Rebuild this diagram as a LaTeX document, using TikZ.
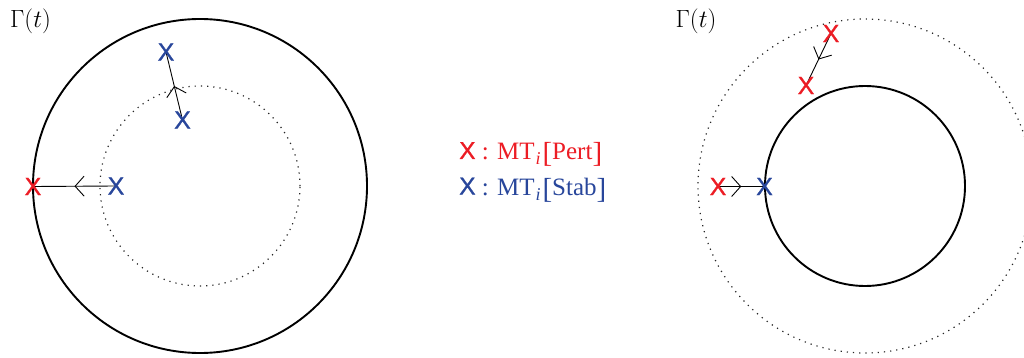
\documentclass[tikz,border=0pt]{standalone}
\usepackage{fontspec}
\usetikzlibrary{arrows.meta,decorations.markings,backgrounds}
\newfontfamily\xsans[FakeBold=1.0]{Liberation Sans}
\newfontfamily\legserif{Liberation Serif}
\definecolor{pertred}{RGB}{236,28,36}
\definecolor{stabblue}{RGB}{40,70,155}
\newcommand{\myxm}{\raisebox{1pt}{\xsans\fontsize{24.5}{25}\selectfont X}}
\newcommand{\mylbr}{\raisebox{-3pt}{\fontsize{29}{29}\selectfont[}}
\newcommand{\myrbr}{\raisebox{-3pt}{\fontsize{29}{29}\selectfont]}}
\newcommand{\mysubi}{\hspace{1pt}\raisebox{-4.5pt}{\fontsize{18}{18}\selectfont\itshape i}\hspace{2pt}}
\tikzset{
  solidcirc/.style={circle, draw, line width=1.9pt, inner sep=0pt},
  dotcirc/.style={circle, draw, line width=1.2pt, dash pattern=on 1.2pt off 5pt, draw=black!85, inner sep=0pt},
  xmark/.style={inner sep=0pt, font=\xsans\fontsize{25}{25}\selectfont},
  pert/.style={xmark, text=pertred},
  stab/.style={xmark, text=stabblue},
  midarrow/.style={line width=0.9pt, postaction={decorate},
    decoration={markings, mark=at position 0.5 with {\arrow{Straight Barb[length=9pt,width=20pt,line width=0.9pt]}}}},
  gammalbl/.style={inner sep=0pt, font=\fontsize{25}{26}\selectfont},
  legendline/.style={inner sep=0pt, anchor=base west, font=\legserif\fontsize{25}{27}\selectfont},
}
\begin{document}
\begin{tikzpicture}[x=1pt,y=-1pt]
\useasboundingbox (0,0) rectangle (1024,358);
\clip (0,0) rectangle (1024,358);
% left diagram
\node[gammalbl] (g1) at (30.5,21.5) {$\Gamma(t)$};
\node[solidcirc, minimum size=334pt] (C1) at (200,186) {};
\node[dotcirc, minimum size=200pt] (D1) at (200,186) {};
\node[pert] (p1) at (33,186.5) {X};
\node[stab] (s1) at (116,186) {X};
\node[stab] (s2) at (166,52) {X};
\node[stab] (s3) at (182.5,120) {X};
% right diagram
\node[gammalbl] (g2) at (696,21.5) {$\Gamma(t)$};
\node[dotcirc, minimum size=334pt] (D2) at (865,186) {};
\node[solidcirc, minimum size=200pt] (C2) at (865,186) {};
\node[pert] (p2) at (831,33.5) {X};
\node[pert] (p3) at (806,85.5) {X};
\node[pert] (p4) at (718,186.5) {X};
\node[stab] (s4) at (764.5,186.5) {X};
% legend
\node[legendline, text=pertred] (leg1) at (459,160) {\myxm{} : MT\mysubi\mylbr Pert\myrbr};
\node[legendline, text=stabblue] (leg2) at (459,195.5) {\myxm{} : MT\mysubi\mylbr Stab\myrbr};
% connectors
\begin{pgfonlayer}{background}
\draw[midarrow] (s1.center) -- (p1.center);
\draw[midarrow] (s3.center) -- (s2.center);
\draw[midarrow] (p2.center) -- (p3.center);
\draw[midarrow] (p4.center) -- (s4.center);
\end{pgfonlayer}
\end{tikzpicture}
\end{document}
